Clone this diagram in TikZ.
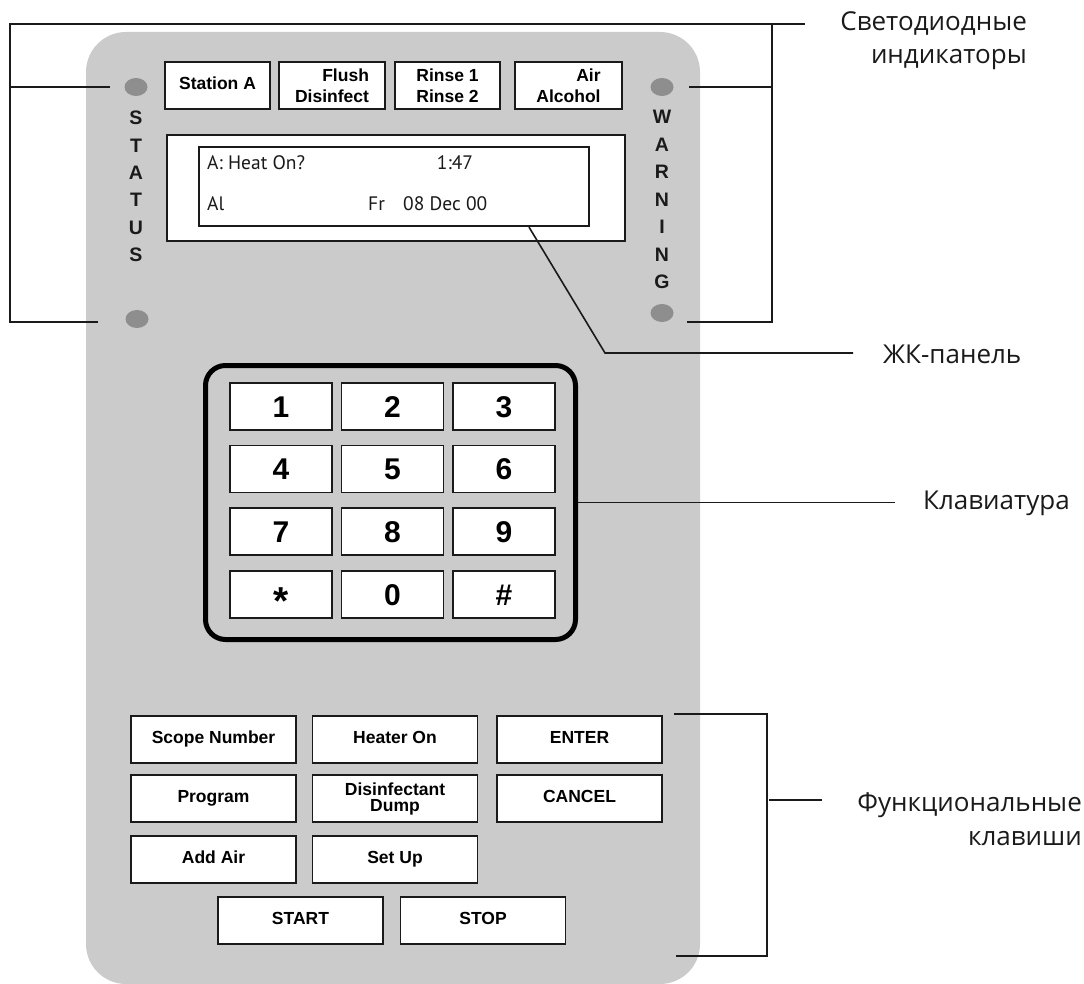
\documentclass[tikz,border=0pt]{standalone}
\usepackage{fontspec}
\setmainfont{Liberation Sans}
\newfontfamily\lblfont{Open Sans}
\newfontfamily\lcdfont{PT Sans}
\usetikzlibrary{calc,shapes.geometric}
\definecolor{panelgray}{HTML}{CBCBCB}
\definecolor{ledgray}{HTML}{8E8E8E}
\definecolor{ink}{HTML}{1A1A1A}
\begin{document}
\begin{tikzpicture}[x=1pt,y=-1pt,
  lead/.style={draw=ink,line width=1.8pt},
  keybox/.style={draw=ink,fill=white,line width=1.7pt,inner sep=0pt,align=center,
    font=\bfseries\fontsize{17.5}{20}\selectfont},
  oneline/.style={text height=12.6pt,text depth=4pt},
  topbox/.style={keybox,minimum height=47pt},
  fnkey/.style={keybox,minimum width=165pt,minimum height=47pt},
  numkey/.style={keybox,minimum width=102pt,minimum height=47pt,
    font=\bfseries\fontsize{30}{31}\selectfont,text height=21.5pt,text depth=0pt},
  led/.style={ellipse,fill=ledgray,draw=none,minimum width=23pt,minimum height=18pt,inner sep=0pt},
  vlet/.style={inner sep=0pt,font=\bfseries\fontsize{19.5}{20}\selectfont,text=ink},
  lcdtxt/.style={inner sep=0pt,font=\lcdfont\fontsize{19.5}{20}\selectfont,text=ink},
  lbl/.style={inner sep=0pt,font=\lblfont\fontsize{26}{30}\selectfont,text=ink}]
\useasboundingbox (0,0) rectangle (1084,984);
% panel
\fill[panelgray,rounded corners=40pt] (86,32) rectangle (700,984);
% top indicator buttons
\node[topbox,oneline,minimum width=105pt] (sA) at (217.5,85.5) {Station A};
\node[topbox,minimum width=106pt,align=right,font=\bfseries\fontsize{17.5}{21}\selectfont] (sF) at (332,85.5) {Flush\\Disinfect};
\node[topbox,minimum width=105pt,align=left,font=\bfseries\fontsize{17.5}{21}\selectfont] (sR) at (447.5,85.5) {Rinse 1\\Rinse 2};
\node[topbox,minimum width=107pt,align=right,font=\bfseries\fontsize{17.5}{21}\selectfont] (sAir) at (568.5,85.5) {Air\\Alcohol};
% LEDs
\node[led] (ledS1) at (136,87) {};
\node[led] (ledS2) at (137,319) {};
\node[led] (ledW1) at (662,87) {};
\node[led] (ledW2) at (662,313) {};
% vertical words
\foreach \l [count=\i] in {S,T,A,T,U,S}
  \node[vlet] (st\i) at (136,{118+27.4*(\i-1)}) {\l};
\foreach \l [count=\i] in {W,A,R,N,I,N,G}
  \node[vlet] (wn\i) at (662,{117+27.5*(\i-1)}) {\l};
% LCD
\node[draw=ink,fill=white,line width=1.8pt,minimum width=458pt,minimum height=106pt,inner sep=0pt] (lcdOut) at (396,188) {};
\node[draw=ink,fill=white,line width=2.2pt,minimum width=390pt,minimum height=79pt,inner sep=0pt] (lcdIn) at (394,186.5) {};
\node[lcdtxt,anchor=base west] (t1) at (207,170) {A: Heat On?};
\node[lcdtxt,anchor=base] (t2) at (455,170) {1:47};
\node[lcdtxt,anchor=base west] (t3) at (207,211) {Al};
\node[lcdtxt,anchor=base west] (t4) at (368,211) {Fr};
\node[lcdtxt,anchor=base west] (t5) at (403,211) {08 Dec 00};
% keypad
\node[draw=black,line width=5pt,rounded corners=20pt,minimum width=370pt,minimum height=274pt,inner sep=0pt] (kpad) at (390.5,502.5) {};
\node[numkey] (k1) at (281,406.5) {1};
\node[numkey] (k2) at (392.5,406.5) {2};
\node[numkey] (k3) at (504,406.5) {3};
\node[numkey] (k4) at (281,469) {4};
\node[numkey] (k5) at (392.5,469) {5};
\node[numkey] (k6) at (504,469) {6};
\node[numkey] (k7) at (281,531.5) {7};
\node[numkey] (k8) at (392.5,531.5) {8};
\node[numkey] (k9) at (504,531.5) {9};
\node[numkey] (kstar) at (281,594.5) {\raisebox{-9pt}{\scalebox{1.3}{*}}};
\node[numkey] (k0) at (392.5,594.5) {0};
\node[numkey] (khash) at (504,594.5) {\#};
% function keys
\node[fnkey,oneline] (kScope) at (213.5,739.5) {Scope Number};
\node[fnkey,oneline] (kHeat) at (395,739.5) {Heater On};
\node[fnkey,oneline] (kEnter) at (579.5,739.5) {ENTER};
\node[fnkey,oneline] (kProg) at (213.5,798.5) {Program};
\node[fnkey,font=\bfseries\fontsize{17.5}{16}\selectfont] (kDump) at (395,798.5) {Disinfectant\\Dump};
\node[fnkey,oneline] (kCancel) at (579.5,798.5) {CANCEL};
\node[fnkey,oneline] (kAir) at (213.5,859.5) {Add Air};
\node[fnkey,oneline] (kSet) at (395,859.5) {Set Up};
\node[fnkey,oneline] (kStart) at (300.5,920.5) {START};
\node[fnkey,oneline] (kStop) at (483,920.5) {STOP};
% labels
\node[lbl,anchor=base east] (lblLED1) at (1027,31) {Светодиодные};
\node[lbl,anchor=base east] (lblLED2) at (1027,64) {индикаторы};
\node[lbl,anchor=base west] (lblLCD) at (883,363) {ЖК-панель};
\node[lbl,anchor=base west] (lblKey) at (923,509) {Клавиатура};
\node[lbl,anchor=base east] (lblFn1) at (1082,811) {Функциональные};
\node[lbl,anchor=base east] (lblFn2) at (1082,845) {клавиши};
% LED brackets
\coordinate (tl) at (10,24);
\coordinate (rx) at (772,24);
\draw[lead] ([xshift=-14.5pt]ledS1.west) -| (tl) -- ($(tl -| lblLED1.west)+(-35,0)$);
\draw[lead] ([xshift=-27.5pt,yshift=-3pt]ledS2.west) -| (tl);
\draw[lead] ([xshift=15.5pt]ledW1.east) -| (rx);
\draw[lead] ([xshift=13.5pt,yshift=-9pt]ledW2.east) -| (rx);
% LCD leader
\coordinate (lcdk) at (605,353);
\draw[lead,line width=1.6pt] ([xshift=135pt]lcdIn.south) -- (lcdk) -- ($(lcdk -| lblLCD.west)+(-30,0)$);
% keypad leader
\draw[lead] (kpad.east) -- ($(kpad.east -| lblKey.west)+(-28,0)$);
% function keys bracket
\coordinate (fbT) at (674,714);
\coordinate (fbX) at (767,714);
\coordinate (fbB) at (676,956);
\coordinate (fbM) at (769,800);
\draw[lead] (fbT) -- (fbX) |- (fbB);
\draw[lead] (fbM) -- ($(fbM -| lblFn1.west)+(-35,0)$);
\end{tikzpicture}
\end{document}
